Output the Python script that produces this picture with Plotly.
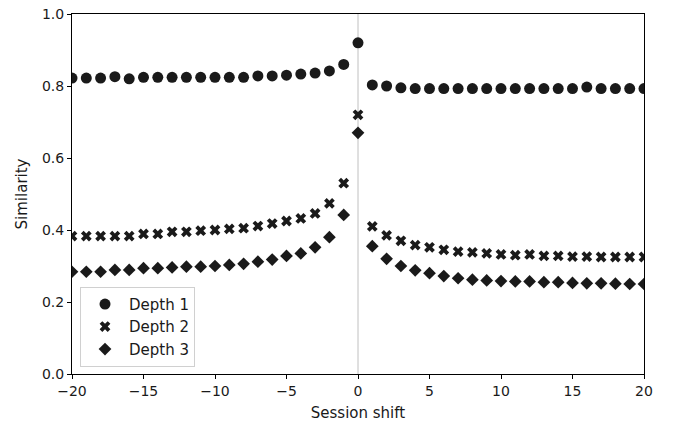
import plotly.graph_objects as go

shift = list(range(-20, 21))
depth1 = [0.822, 0.822, 0.822, 0.826, 0.820, 0.824, 0.824, 0.824, 0.824, 0.824,
          0.824, 0.824, 0.824, 0.828, 0.828, 0.830, 0.833, 0.836, 0.842, 0.860,
          0.920,
          0.803, 0.800, 0.795, 0.793, 0.793, 0.793, 0.793, 0.793, 0.793, 0.793,
          0.793, 0.793, 0.793, 0.793, 0.793, 0.797, 0.793, 0.793, 0.793, 0.793]
depth2 = [0.383, 0.383, 0.383, 0.383, 0.383, 0.389, 0.389, 0.395, 0.395, 0.398,
          0.400, 0.403, 0.405, 0.411, 0.418, 0.425, 0.432, 0.446, 0.474, 0.530,
          0.720,
          0.410, 0.385, 0.370, 0.358, 0.352, 0.345, 0.340, 0.338, 0.335, 0.332,
          0.330, 0.332, 0.328, 0.328, 0.326, 0.326, 0.325, 0.325, 0.325, 0.325]
depth3 = [0.284, 0.284, 0.284, 0.289, 0.289, 0.294, 0.294, 0.296, 0.298, 0.298,
          0.300, 0.303, 0.306, 0.312, 0.318, 0.328, 0.335, 0.352, 0.380, 0.442,
          0.670,
          0.355, 0.320, 0.300, 0.288, 0.280, 0.272, 0.266, 0.262, 0.260, 0.258,
          0.257, 0.257, 0.255, 0.255, 0.253, 0.252, 0.252, 0.251, 0.250, 0.250]

color = "#1a1a1a"
fig = go.Figure()
fig.add_trace(go.Scatter(x=shift, y=depth1, mode="markers", name="Depth 1",
                         marker=dict(symbol="circle", size=11, color=color)))
fig.add_trace(go.Scatter(x=shift, y=depth2, mode="markers", name="Depth 2",
                         marker=dict(symbol="x", size=9.5, color=color)))
fig.add_trace(go.Scatter(x=shift, y=depth3, mode="markers", name="Depth 3",
                         marker=dict(symbol="square", angle=45, size=9, color=color)))

fig.add_shape(type="line", x0=0, x1=0, y0=0, y1=1, xref="x", yref="y",
              line=dict(color="#c0c0c0", width=1), layer="below")

axis_common = dict(showgrid=False, zeroline=False, showline=True, linecolor="black", linewidth=1,
                   mirror=True, ticks="outside", ticklen=4, tickcolor="black", automargin=False,
                   tickfont=dict(size=14, color="#1a1a1a"))
fig.update_layout(
    width=673, height=424,
    margin=dict(l=72, r=29, t=14, b=50),
    plot_bgcolor="white", paper_bgcolor="white",
    font=dict(family="DejaVu Sans", size=14, color="#1a1a1a"),
    xaxis=dict(range=[-20, 20], tickvals=[-20, -15, -10, -5, 0, 5, 10, 15, 20],
               title=dict(text="Session shift", font=dict(size=15), standoff=9), **axis_common),
    yaxis=dict(range=[0, 1], tickvals=[0, 0.2, 0.4, 0.6, 0.8, 1.0], tickformat=".1f",
               title=dict(text="Similarity", font=dict(size=15), standoff=10), **axis_common),
    legend=dict(x=0.014, y=0.02, xanchor="left", yanchor="bottom",
                bordercolor="#d0d0d0", borderwidth=1, bgcolor="rgba(255,255,255,0.8)",
                font=dict(size=15), tracegroupgap=0, itemwidth=38),
    showlegend=True,
)
fig.write_html("out.html", config={"displayModeBar": False},
               post_script="document.body.style.margin='0';")
